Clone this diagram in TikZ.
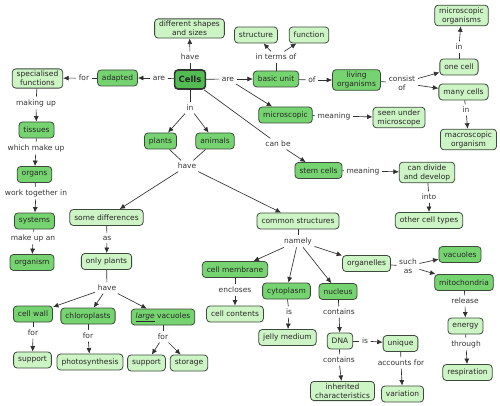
\documentclass[tikz,border=0pt]{standalone}
\usepackage{fontspec}
\newfontfamily\dv{DejaVu Sans}
\usetikzlibrary{arrows.meta}
\definecolor{darkg}{HTML}{76D470}
\definecolor{lightg}{HTML}{CDF4C5}
\definecolor{cellg}{HTML}{52BC52}
\definecolor{bordc}{HTML}{3C4A3C}
\definecolor{lnc}{HTML}{303030}
\begin{document}
\begin{tikzpicture}[x=1pt,y=-1pt,
  box/.style={draw=bordc, rounded corners=3.5pt, inner xsep=4.5pt, inner ysep=2.2pt,
    minimum height=16pt, align=center, font=\dv\fontsize{7.5}{9}\selectfont, line width=0.8pt, text=black!85},
  dk/.style={box, fill=darkg},
  lt/.style={box, fill=lightg},
  lab/.style={inner sep=2.5pt, align=center, font=\dv\fontsize{7.5}{9}\selectfont, text=black!80},
  ln/.style={draw=lnc, line width=0.65pt},
  arr/.style={draw=lnc, line width=0.65pt, -{Latex[length=5.5pt,width=5pt]}}
]
\useasboundingbox (0,0) rectangle (500,406);
% concept nodes
\node[lt] (shapes) at (189.5,28.5) {different shapes\\and sizes};
\node[box, fill=cellg, line width=1.6pt, draw=black!80, font=\dv\bfseries\fontsize{8.5}{10}\selectfont, inner xsep=4pt, minimum height=19pt] (cells) at (190,79.5) {Cells};
\node[dk] (adapted) at (117.5,78) {adapted};
\node[lt] (spec) at (37.5,78.5) {specialised\\functions};
\node[dk] (tissues) at (36.5,130) {tissues};
\node[dk] (organs) at (34.5,174.5) {organs};
\node[dk] (systems) at (34.5,221) {systems};
\node[dk] (organism) at (32,262.5) {organism};
\node[lt] (structure) at (256,35) {structure};
\node[lt] (function) at (309,35) {function};
\node[dk] (basic) at (276,79) {basic unit};
\node[dk] (living) at (356.5,80) {living\\organisms};
\node[lt] (onecell) at (459,67) {one cell};
\node[lt] (manycells) at (463.5,92) {many cells};
\node[lt] (microorg) at (461.5,15.5) {microscopic\\organisms};
\node[lt] (macroorg) at (468.5,139.5) {macroscopic\\organism};
\node[dk] (micro) at (285.5,115) {microscopic};
\node[lt] (seen) at (399,117.5) {seen under\\microscope};
\node[dk] (plants) at (160.5,141) {plants};
\node[dk] (animals) at (215,141) {animals};
\node[dk] (stem) at (318.5,170.5) {stem cells};
\node[lt] (divide) at (427,172.5) {can divide\\and develop};
\node[lt] (other) at (429,220.5) {other cell types};
\node[lt] (somediff) at (106.5,217.5) {some differences};
\node[lt] (onlyplants) at (106.5,261.5) {only plants};
\node[lt] (common) at (298,221) {common structures};
\node[lt] (organelles) at (366.5,263.5) {organelles};
\node[dk] (vacuoles) at (460,254.5) {vacuoles};
\node[dk] (mito) at (464,282.5) {mitochondria};
\node[lt] (energy) at (465.5,326) {energy};
\node[lt] (resp) at (467.5,372.5) {respiration};
\node[dk] (membrane) at (235,269.5) {cell membrane};
\node[lt] (contents) at (235,314) {cell contents};
\node[dk] (cyto) at (286.5,291) {cytoplasm};
\node[dk] (nucleus) at (338,291.5) {nucleus};
\node[lt] (jelly) at (287.5,337.5) {jelly medium};
\node[lt] (dna) at (340,341) {DNA};
\node[lt] (unique) at (400.5,343.5) {unique};
\node[lt] (inherited) at (342.5,391) {inherited\\characteristics};
\node[lt] (variation) at (402.5,394) {variation};
\node[dk] (cellwall) at (33,314) {cell wall};
\node[dk] (chloro) at (88,316) {chloroplasts};
\node[dk] (largevac) at (163,317) {\underline{\itshape large} vacuoles};
\node[lt] (support1) at (32.5,360) {support};
\node[lt] (photo) at (90,362) {photosynthesis};
\node[lt] (support2) at (146.5,363) {support};
\node[lt] (storage) at (189,363) {storage};
% linking phrases
\node[lab] (lhave1) at (190,57) {have};
\node[lab] (lare1) at (159,78) {are};
\node[lab] (lfor1) at (84,78) {for};
\node[lab] (lmaking) at (36,103) {making up};
\node[lab] (lwhich) at (36,148) {which make up};
\node[lab] (lwork) at (36,193) {work together in};
\node[lab] (lmakean) at (33,238) {make up an};
\node[lab] (lare2) at (228,79) {are};
\node[lab] (lterms) at (276,57) {in terms of};
\node[lab] (lof) at (312,80) {of};
\node[lab] (lconsist) at (402,83) {consist\\of};
\node[lab] (lin1) at (459,47) {in};
\node[lab] (lin2) at (466,110) {in};
\node[lab] (lmean1) at (334,116) {meaning};
\node[lab] (lin3) at (190,108) {in};
\node[lab] (lcanbe) at (278,144) {can be};
\node[lab] (lmean2) at (363,171) {meaning};
\node[lab] (linto) at (429,197) {into};
\node[lab] (lhave2) at (187,166) {have};
\node[lab] (las) at (107,238) {as};
\node[lab] (lnamely) at (298,241) {namely};
\node[lab] (lsuch) at (408,266) {such\\as};
\node[lab] (lrelease) at (465,301) {release};
\node[lab] (lthrough) at (466,344) {through};
\node[lab] (lencl) at (235,290) {encloses};
\node[lab] (lis1) at (289,312) {is};
\node[lab] (lcont1) at (339,312) {contains};
\node[lab] (lis2) at (365,341) {is};
\node[lab] (lcont2) at (339,360) {contains};
\node[lab] (lacc) at (401,363) {accounts for};
\node[lab] (lhave3) at (107,288) {have};
\node[lab] (lfor2) at (33,333) {for};
\node[lab] (lfor3) at (88,336) {for};
\node[lab] (lfor4) at (163,337) {for};
% connectors
\draw[ln] (cells) -- (lhave1); \draw[arr] (lhave1) -- (shapes);
\draw[ln] (cells) -- (lare1); \draw[arr] (lare1) -- (adapted);
\draw[ln] (adapted) -- (lfor1); \draw[arr] (lfor1) -- (spec);
\draw[ln] (spec) -- (lmaking); \draw[arr] (lmaking) -- (tissues);
\draw[ln] (tissues) -- (lwhich); \draw[arr] (lwhich) -- (organs);
\draw[ln] (organs) -- (lwork); \draw[arr] (lwork) -- (systems);
\draw[ln] (systems) -- (lmakean); \draw[arr] (lmakean) -- (organism);
\draw[ln] (cells) -- (lare2); \draw[arr] (lare2) -- (basic); \draw[arr] (lare2) -- (micro);
\draw[ln] (basic) -- (lterms); \draw[arr] (lterms) -- (structure); \draw[arr] (lterms) -- (function);
\draw[ln] (basic) -- (lof); \draw[arr] (lof) -- (living);
\draw[ln] (living) -- (lconsist); \draw[arr] (lconsist) -- (onecell); \draw[arr] (lconsist) -- (manycells);
\draw[ln] (onecell) -- (lin1); \draw[arr] (lin1) -- (microorg);
\draw[ln] (manycells) -- (lin2); \draw[arr] (lin2) -- (macroorg);
\draw[ln] (micro) -- (lmean1); \draw[arr] (lmean1) -- (seen);
\draw[ln] (cells) -- (lin3); \draw[arr] (lin3) -- (plants); \draw[arr] (lin3) -- (animals);
\draw[ln] (cells) -- (lcanbe); \draw[arr] (lcanbe) -- (stem);
\draw[ln] (stem) -- (lmean2); \draw[arr] (lmean2) -- (divide);
\draw[ln] (divide) -- (linto); \draw[arr] (linto) -- (other);
\draw[ln] (plants) -- (lhave2); \draw[ln] (animals) -- (lhave2);
\draw[arr] (lhave2) -- (somediff); \draw[arr] (lhave2) -- (common);
\draw[ln] (somediff) -- (las); \draw[arr] (las) -- (onlyplants);
\draw[ln] (common) -- (lnamely);
\draw[arr] (lnamely) -- (membrane); \draw[arr] (lnamely) -- (cyto); \draw[arr] (lnamely) -- (nucleus); \draw[arr] (lnamely) -- (organelles);
\draw[ln] (organelles) -- (lsuch); \draw[arr] (lsuch) -- (vacuoles); \draw[arr] (lsuch) -- (mito);
\draw[ln] (mito) -- (lrelease); \draw[arr] (lrelease) -- (energy);
\draw[ln] (energy) -- (lthrough); \draw[arr] (lthrough) -- (resp);
\draw[ln] (membrane) -- (lencl); \draw[arr] (lencl) -- (contents);
\draw[ln] (cyto) -- (lis1); \draw[arr] (lis1) -- (jelly);
\draw[ln] (nucleus) -- (lcont1); \draw[arr] (lcont1) -- (dna);
\draw[ln] (dna) -- (lis2); \draw[arr] (lis2) -- (unique);
\draw[ln] (dna) -- (lcont2); \draw[arr] (lcont2) -- (inherited);
\draw[ln] (unique) -- (lacc); \draw[arr] (lacc) -- (variation);
\draw[ln] (onlyplants) -- (lhave3);
\draw[arr] (lhave3) -- (cellwall); \draw[arr] (lhave3) -- (chloro); \draw[arr] (lhave3) -- (largevac);
\draw[ln] (cellwall) -- (lfor2); \draw[arr] (lfor2) -- (support1);
\draw[ln] (chloro) -- (lfor3); \draw[arr] (lfor3) -- (photo);
\draw[ln] (largevac) -- (lfor4); \draw[arr] (lfor4) -- (support2); \draw[arr] (lfor4) -- (storage);
\end{tikzpicture}
\end{document}
